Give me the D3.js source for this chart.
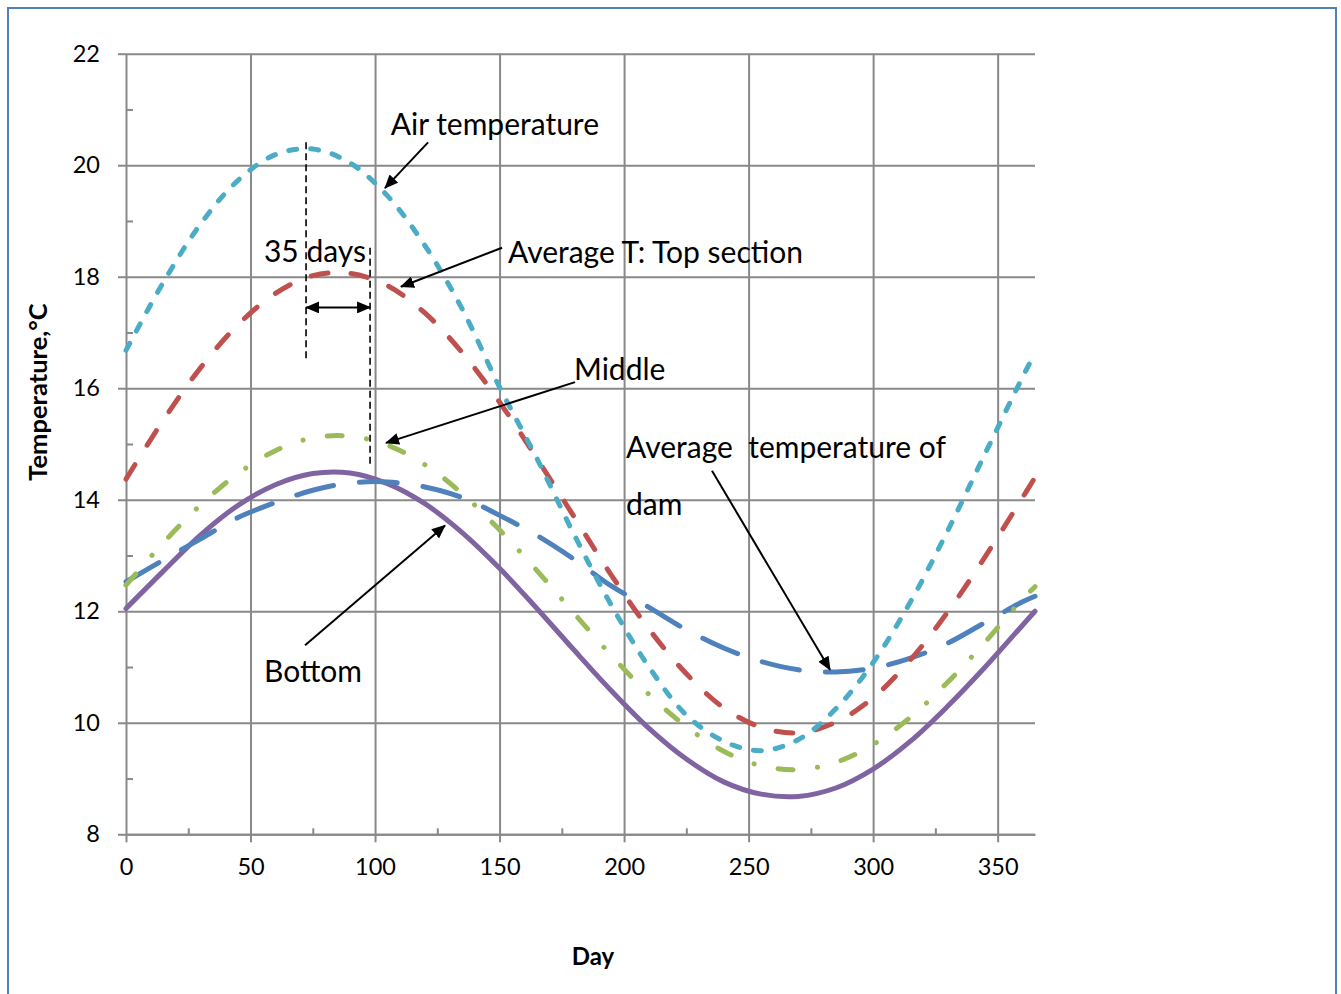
<!DOCTYPE html>
<html><head><meta charset="utf-8">
<script src="https://cdn.jsdelivr.net/npm/d3@7"></script>
<style>
body{margin:0;background:#fff}
svg{display:block}
text{font-family:Lato,"Open Sans",sans-serif;fill:#000}
</style>
</head><body><svg id="c" width="1341" height="994"></svg>
<script>
// ---- data ----
const days        = [0,15,30,45,60,75,90,105,120,135,150,165,180,195,210,225,240,255,270,285,300,315,330,345,360,365];
const airTemp     = [16.68,17.9,18.95,19.73,20.19,20.29,20.04,19.45,18.56,17.42,16.02,14.74,13.37,12.1,11.0,10.14,9.67,9.5,9.7,10.25,11.08,12.17,13.45,14.83,16.2,16.63];
const topSection  = [14.37,15.43,16.37,17.14,17.7,18.02,18.06,17.84,17.35,16.64,15.75,14.74,13.69,12.64,11.68,10.88,10.27,9.92,9.82,10.01,10.45,11.13,11.99,12.98,14.04,14.4];
const middle      = [12.47,13.23,13.91,14.47,14.88,15.11,15.14,14.98,14.63,14.11,13.46,12.73,11.96,11.2,10.51,9.93,9.49,9.23,9.16,9.29,9.61,10.1,10.73,11.45,12.22,12.44];
const damAverage  = [12.53,12.92,13.3,13.68,13.95,14.17,14.3,14.32,14.23,14.04,13.72,13.36,12.93,12.45,12.07,11.67,11.34,11.1,10.95,10.91,10.98,11.16,11.43,11.8,12.17,12.27];
const bottom      = [12.05,12.72,13.37,13.9,14.27,14.47,14.48,14.29,13.93,13.41,12.77,12.05,11.3,10.57,9.9,9.35,8.94,8.72,8.68,8.83,9.17,9.67,10.3,11.0,11.75,12.0];

const xTicks      = [0,50,100,150,200,250,300,350];
const xMinorTicks = [25,75,125,175,225,275,325];
const yTicks      = [8,10,12,14,16,18,20,22];
const yMinorTicks = [9,11,13,15,17,19,21];

const xTitle = "Day";
const yTitle = "Temperature,°C";

// ---- layout ----
const svg = d3.select("#c");
const x = d3.scaleLinear().domain([0,365]).range([126,1035]);
const y = d3.scaleLinear().domain([8,22]).range([834.3,53.7]);
const gridColor = "#898989";

// frame
svg.append("rect").attr("x",8).attr("y",8).attr("width",1328).attr("height",1000)
  .attr("fill","none").attr("stroke","#4F81BD").attr("stroke-width",2);

// gridlines
const grid = svg.append("g");
grid.append("g").attr("transform",`translate(${x(0)},0)`)
  .call(d3.axisLeft(y).tickValues(yTicks).tickSize(-(x(365)-x(0))).tickFormat(""))
  .call(g=>g.select(".domain").remove())
  .call(g=>g.selectAll("line").attr("stroke",gridColor).attr("stroke-width",2));
grid.append("g").attr("transform",`translate(0,${y(8)})`)
  .call(d3.axisBottom(x).tickValues(xTicks.filter(d=>d>0)).tickSize(-(y(8)-y(22))).tickFormat(""))
  .call(g=>g.select(".domain").remove())
  .call(g=>g.selectAll("line").attr("stroke",gridColor).attr("stroke-width",2));

// y axis
const yAx = svg.append("g").attr("transform",`translate(${x(0)},0)`)
  .call(d3.axisLeft(y).tickValues(yTicks).tickSize(8).tickPadding(18).tickSizeOuter(0));
yAx.select(".domain").attr("stroke",gridColor).attr("stroke-width",2);
yAx.selectAll("line").attr("stroke",gridColor).attr("stroke-width",2);
yAx.selectAll("text").attr("font-size",23.5).attr("font-family","Lato").attr("fill","#000");
svg.append("g").attr("transform",`translate(${x(0)},0)`)
  .call(d3.axisRight(y).tickValues(yMinorTicks).tickSize(7).tickFormat("").tickSizeOuter(0))
  .call(g=>g.select(".domain").remove())
  .call(g=>g.selectAll("line").attr("stroke",gridColor).attr("stroke-width",2));

// x axis
const xAx = svg.append("g").attr("transform",`translate(0,${y(8)})`)
  .call(d3.axisBottom(x).tickValues(xTicks).tickSize(8).tickPadding(16).tickSizeOuter(0));
xAx.select(".domain").attr("stroke",gridColor).attr("stroke-width",2);
xAx.selectAll("line").attr("stroke",gridColor).attr("stroke-width",2);
xAx.selectAll("text").attr("font-size",23.5).attr("font-family","Lato").attr("fill","#000");
svg.append("g").attr("transform",`translate(0,${y(8)})`)
  .call(d3.axisTop(x).tickValues(xMinorTicks).tickSize(6).tickFormat("").tickSizeOuter(0))
  .call(g=>g.select(".domain").remove())
  .call(g=>g.selectAll("line").attr("stroke",gridColor).attr("stroke-width",2));

// axis titles
svg.append("text").attr("x",593).attr("y",965).attr("text-anchor","middle")
  .attr("font-weight","bold").attr("font-size",24).text(xTitle);
svg.append("text").attr("transform","translate(47,392) rotate(-90)").attr("text-anchor","middle")
  .attr("font-weight","bold").attr("font-size",25.5).text(yTitle);

// series
const series = [
  {name:"Bottom", values:bottom, color:"#8064A2", dash:null},
  {name:"Average temperature of dam", values:damAverage, color:"#4F81BD", dash:"38,26"},
  {name:"Middle", values:middle, color:"#9BBB59", dash:"15,24.5,0.1,24.5"},
  {name:"Average T: Top section", values:topSection, color:"#C0504D", dash:"17,23"},
  {name:"Air temperature", values:airTemp, color:"#4BACC6", dash:"8,14"}
];
const line = d3.line().x(d=>x(d[0])).y(d=>y(d[1])).curve(d3.curveCatmullRom.alpha(0.5));
series.forEach(s=>{
  svg.append("path").datum(days.map((d,i)=>[d,s.values[i]]))
    .attr("d",line).attr("fill","none").attr("stroke",s.color).attr("stroke-width",5)
    .attr("stroke-linecap","round").attr("stroke-dasharray",s.dash);
});

// ---- annotations (positions in data units) ----
const defs = svg.append("defs");
defs.append("marker").attr("id","ah").attr("viewBox","0 0 14 12").attr("refX",13).attr("refY",6)
  .attr("markerWidth",14).attr("markerHeight",12).attr("markerUnits","userSpaceOnUse").attr("orient","auto-start-reverse")
  .append("path").attr("d","M0,0 L14,6 L0,12 Z").attr("fill","#000");

const labels = [
  {t:"Air temperature", d:106.3, v:20.54},
  {t:"Average T: Top section", d:153.4, v:18.25},
  {t:"35 days", d:55.4, v:18.26},
  {t:"Middle", d:179.9, v:16.15},
  {t:"Average  temperature of", d:200.8, v:14.75},
  {t:"dam", d:200.8, v:13.73},
  {t:"Bottom", d:55.4, v:10.73}
];
labels.forEach(l=>{
  svg.append("text").attr("x",x(l.d)).attr("y",y(l.v)).attr("font-size",30)
    .style("white-space","pre").text(l.t);
});

const arrows = [
  {d1:121.3,v1:20.41,d2:104.0,v2:19.59},
  {d1:151.0,v1:18.52,d2:110.4,v2:17.82},
  {d1:180.3,v1:16.11,d2:104.4,v2:15.02},
  {d1:235.3,v1:14.52,d2:282.7,v2:10.95},
  {d1:71.9,v1:11.39,d2:128.1,v2:13.54}
];
arrows.forEach(a=>{
  svg.append("line").attr("x1",x(a.d1)).attr("y1",y(a.v1)).attr("x2",x(a.d2)).attr("y2",y(a.v2))
    .attr("stroke","#000").attr("stroke-width",2).attr("marker-end","url(#ah)");
});
// 35-day lag markers
const lagLines = [
  {d:72.3, v1:20.41, v2:16.54},
  {d:98.0, v1:18.52, v2:14.59}
];
lagLines.forEach(l=>{
  svg.append("line").attr("x1",x(l.d)).attr("x2",x(l.d)).attr("y1",y(l.v1)).attr("y2",y(l.v2))
    .attr("stroke","#000").attr("stroke-width",1.6).attr("stroke-dasharray","7,4");
});
svg.append("line").attr("x1",x(72.3)).attr("x2",x(98.0)).attr("y1",y(17.45)).attr("y2",y(17.45))
  .attr("stroke","#000").attr("stroke-width",2)
  .attr("marker-start","url(#ah)").attr("marker-end","url(#ah)");
</script>
</body></html>
